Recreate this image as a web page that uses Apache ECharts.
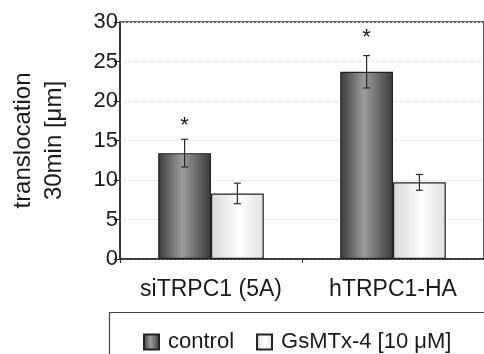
<!DOCTYPE html>
<html><head><meta charset="utf-8">
<script src="https://cdn.jsdelivr.net/npm/echarts@6/dist/echarts.min.js"></script>
<style>html,body{margin:0;padding:0;background:#fff}#c{width:484px;height:354px}</style>
</head><body><div id="c"></div>
<script>
const categories = ['siTRPC1 (5A)', 'hTRPC1-HA'];
const seriesNames = ['control', 'GsMTx-4 [10 \u03bcM]'];
const controlValues = [13.4, 23.7];
const controlErrors = [1.75, 2.05];
const gsmtxValues = [8.3, 9.7];
const gsmtxErrors = [1.3, 1.0];
const starLabels = ['*', '*'];
const starHeights = [17.4, 28.5];
const yTicks = [0, 5, 10, 15, 20, 25, 30];

const FONT = 'Liberation Sans';
const chart = echarts.init(document.getElementById('c'));

const darkGrad = new echarts.graphic.LinearGradient(0, 0, 1, 0, [
  {offset: 0, color: '#3c3c3c'}, {offset: 0.45, color: '#9c9c9c'}, {offset: 1, color: '#3a3a3a'}]);
const lightGrad = new echarts.graphic.LinearGradient(0, 0, 1, 0, [
  {offset: 0, color: '#d8d8d8'}, {offset: 0.55, color: '#ffffff'}, {offset: 1, color: '#dedede'}]);

function errSeries(values, errors, idx) {
  return {
    type: 'custom', silent: true, z: 5,
    data: values.map((v, i) => [i, v - errors[i], v + errors[i]]),
    renderItem: function (params, api) {
      const lo = api.coord([api.value(0), api.value(1)]);
      const hi = api.coord([api.value(0), api.value(2)]);
      const bw = api.size([1, 0])[0];
      const barW = bw * 0.29;
      const x = lo[0] + (idx === 0 ? -barW / 2 : barW / 2);
      const cap = 3.5;
      const st = {stroke: '#2a2a2a', lineWidth: 1.2};
      return {type: 'group', children: [
        {type: 'line', shape: {x1: x, y1: lo[1], x2: x, y2: hi[1]}, style: st},
        {type: 'line', shape: {x1: x - cap, y1: lo[1], x2: x + cap, y2: lo[1]}, style: st},
        {type: 'line', shape: {x1: x - cap, y1: hi[1], x2: x + cap, y2: hi[1]}, style: st}
      ]};
    }
  };
}

chart.setOption({
  animation: false,
  textStyle: {fontFamily: FONT},
  grid: {left: 116, top: 22, bottom: 95, right: -13, show: true, borderColor: '#333', borderWidth: 1.5},
  legend: {
    left: 138, top: 326, itemWidth: 15, itemHeight: 15, itemGap: 22,
    icon: 'rect', data: seriesNames,
    textStyle: {fontSize: 22, color: '#1a1a1a', fontFamily: FONT, padding: [0, 0, 0, 4]}
  },
  graphic: [{type: 'rect', left: 107, top: 310, shape: {width: 420, height: 80},
    style: {fill: 'none', stroke: '#444', lineWidth: 1.2}, silent: true, z: -1}],
  xAxis: {
    type: 'category', data: categories,
    axisLine: {lineStyle: {color: '#2a2a2a', width: 1.5}},
    axisTick: {show: true, length: 4, lineStyle: {color: '#2a2a2a'}},
    axisLabel: {interval: 0, fontSize: 23, color: '#1a1a1a', margin: 19, fontFamily: FONT}
  },
  yAxis: {
    type: 'value', min: 0, max: 30, interval: 5,
    name: 'translocation\n30min [\u03bcm]', nameLocation: 'middle', nameGap: 50,
    nameTextStyle: {fontSize: 24, color: '#1a1a1a', lineHeight: 31, fontFamily: FONT},
    axisLine: {show: true, lineStyle: {color: '#2a2a2a', width: 1.5}},
    axisTick: {show: true, length: 6, lineStyle: {color: '#2a2a2a'}},
    axisLabel: {fontSize: 22, color: '#1a1a1a', margin: 2, fontFamily: FONT,
      formatter: v => yTicks.includes(v) ? String(v) : ''},
    splitLine: {show: true, lineStyle: {color: '#e0e0e0', type: [2, 2], width: 1}}
  },
  series: [
    {name: seriesNames[0], type: 'bar', data: controlValues, barWidth: '29%', barGap: '0%',
      itemStyle: {color: darkGrad, borderColor: '#222', borderWidth: 1.2}},
    {name: seriesNames[1], type: 'bar', data: gsmtxValues, barWidth: '29%', barGap: '0%',
      itemStyle: {color: lightGrad, borderColor: '#222', borderWidth: 1.2}},
    errSeries(controlValues, controlErrors, 0),
    errSeries(gsmtxValues, gsmtxErrors, 1),
    {type: 'custom', silent: true, z: 6,
      data: starHeights.map((h, i) => [i, h]),
      renderItem: function (params, api) {
        const p = api.coord([api.value(0), api.value(1)]);
        const bw = api.size([1, 0])[0];
        return {type: 'text', x: p[0] - bw * 0.145, y: p[1] + 4,
          style: {text: starLabels[params.dataIndex], fontSize: 22, fontFamily: FONT,
            fill: '#1a1a1a', align: 'center', verticalAlign: 'middle'}};
      }}
  ]
});
</script></body></html>
